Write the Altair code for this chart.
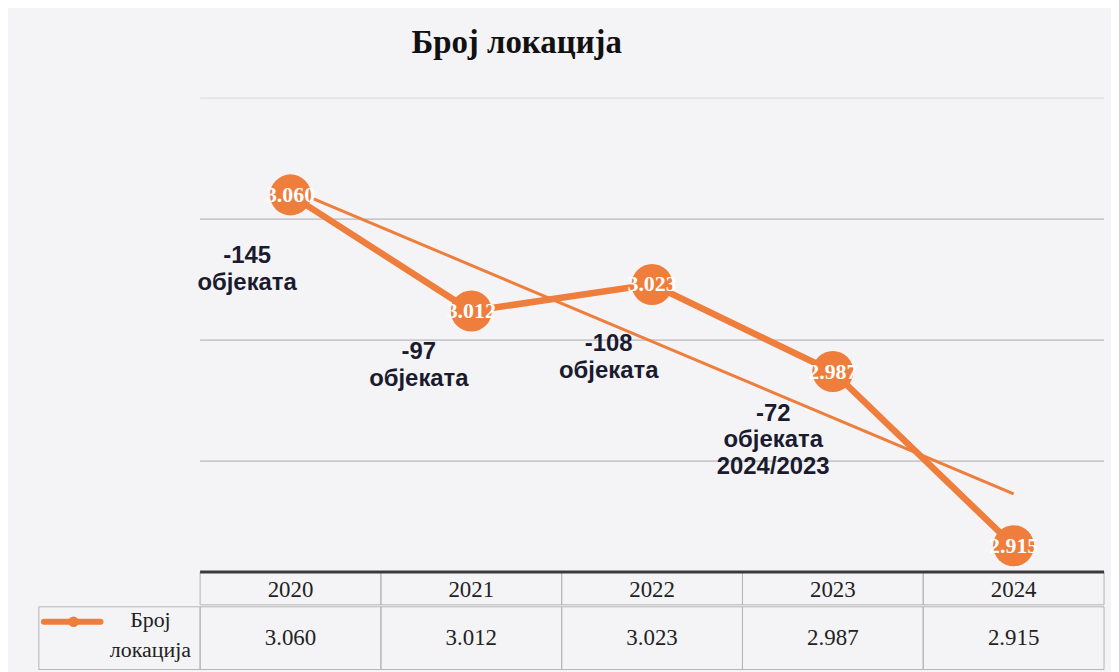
import altair as alt
import pandas as pd

# ---------------- data ----------------
years = [2020, 2021, 2022, 2023, 2024]
counts = [3060, 3012, 3023, 2987, 2915]
count_labels = ["3.060", "3.012", "3.023", "2.987", "2.915"]

ann_texts = ["-145\nобјеката", "-97\nобјеката", "-108\nобјеката", "-72\nобјеката\n2024/2023"]
ann_x = [2019.76, 2020.71, 2021.76, 2022.67]
ann_y = [3034.6, 2995.1, 2998.4, 2969.6]

grid_values = [3100, 3050, 3000, 2950]
grid_opacity = [0.35, 1, 1, 1]
y_domain = [2905, 3100]

chart_title = "Број локација"
series_label = "Број\nлокација"
legend_line_x = [2018.636, 2018.949]
legend_marker_x = [2018.80]
legend_text_x = [2019.225]

# ---------------- style ----------------
ORANGE = "#EF7D3B"
TEXT_DARK = "#1b1b30"
GRID = "#a8a8a8"
CELL = "#b4b4b4"
BG = "#f4f4f6"
SERIF = "Liberation Serif"
SANS = "Liberation Sans"

first_edge = min(years) - 0.5
last_edge = max(years) + 0.5
X_DOMAIN = [2018.608, last_edge]
PW = 1070

xs = alt.Scale(domain=X_DOMAIN, nice=False, zero=False)
ys = alt.Scale(domain=y_domain, nice=False, zero=False)

df = pd.DataFrame({"year": years, "count": counts, "label": count_labels})
ann = pd.DataFrame({"x": ann_x, "y": ann_y, "t": ann_texts})
grid_df = pd.DataFrame({"g": grid_values, "op": grid_opacity,
                        "x0": [first_edge] * len(grid_values),
                        "x1": [last_edge] * len(grid_values)})
span_df = pd.DataFrame({"x0": [first_edge], "x1": [last_edge]})
legend_cell_df = pd.DataFrame({"x0": [X_DOMAIN[0]], "x1": [first_edge]})
legend_line_df = pd.DataFrame({"x0": [legend_line_x[0]], "x1": [legend_line_x[1]]})

X = alt.X("year:Q", scale=xs, axis=None)
Y = alt.Y("count:Q", scale=ys, axis=None)

grid = alt.Chart(grid_df).mark_rule(color=GRID, strokeWidth=1).encode(
    x=alt.X("x0:Q", scale=xs, axis=None), x2="x1:Q",
    y=alt.Y("g:Q", scale=ys, axis=None),
    opacity=alt.Opacity("op:Q", scale=None, legend=None),
)
trend = alt.Chart(df).transform_regression("year", "count").mark_line(
    color=ORANGE, strokeWidth=3
).encode(x=X, y=Y)
line = alt.Chart(df).mark_line(color=ORANGE, strokeWidth=6.5).encode(x=X, y=Y)
dots = alt.Chart(df).mark_circle(size=1700, color=ORANGE, opacity=1).encode(x=X, y=Y)
labels = alt.Chart(df).mark_text(
    color="white", font=SERIF, fontWeight="bold", fontSize=22
).encode(x=X, y=Y, text="label:N")
notes = alt.Chart(ann).mark_text(
    font=SANS, fontWeight="bold", fontSize=24, color=TEXT_DARK,
    lineBreak="\n", lineHeight=27, align="center", baseline="middle",
).encode(
    x=alt.X("x:Q", scale=xs, axis=None),
    y=alt.Y("y:Q", scale=ys, axis=None),
    text="t:N",
)

top = alt.layer(grid, trend, line, dots, labels, notes).properties(
    width=PW, height=474,
    title=alt.TitleParams(
        chart_title, font=SERIF, fontSize=33, fontWeight="bold", color="#111111",
        anchor="middle", dx=-55, offset=38,
    ),
)

# ---------------- table ----------------
tbl = pd.DataFrame({"year": years, "ytxt": [str(v) for v in years], "vtxt": count_labels})

def cells():
    return alt.Chart(tbl).transform_calculate(
        x0="datum.year - 0.5", x1="datum.year + 0.5"
    ).mark_rect(fillOpacity=0, stroke=CELL, strokeWidth=1).encode(
        x=alt.X("x0:Q", scale=xs, axis=None), x2="x1:Q"
    )

top_rule = alt.Chart(span_df).mark_rule(color="#3a3a3a", strokeWidth=3).encode(
    x=alt.X("x0:Q", scale=xs, axis=None), x2="x1:Q", y=alt.value(0)
)
year_text = alt.Chart(tbl).mark_text(font=SERIF, fontSize=23, color="#222222", dy=2).encode(
    x=alt.X("year:Q", scale=xs, axis=None), text="ytxt:N"
)
header = alt.layer(cells(), top_rule, year_text).properties(width=PW, height=33)

legend_cell = alt.Chart(legend_cell_df).mark_rect(fillOpacity=0, stroke=CELL, strokeWidth=1).encode(
    x=alt.X("x0:Q", scale=xs, axis=None), x2="x1:Q"
)
legend_line = alt.Chart(legend_line_df).mark_rule(color=ORANGE, strokeWidth=6, strokeCap="round").encode(
    x=alt.X("x0:Q", scale=xs, axis=None), x2="x1:Q", y=alt.value(15)
)
legend_dot = alt.Chart(pd.DataFrame({"x": legend_marker_x})).mark_circle(
    size=110, color=ORANGE, opacity=1
).encode(x=alt.X("x:Q", scale=xs, axis=None), y=alt.value(15))
legend_txt = alt.Chart(pd.DataFrame({"x": legend_text_x, "t": [series_label]})).mark_text(
    font=SERIF, fontSize=22, color="#222222", lineBreak="\n", lineHeight=30,
    align="center", baseline="middle", dy=-18,
).encode(x=alt.X("x:Q", scale=xs, axis=None), text="t:N")
value_text = alt.Chart(tbl).mark_text(font=SERIF, fontSize=23, color="#222222").encode(
    x=alt.X("year:Q", scale=xs, axis=None), text="vtxt:N"
)
values = alt.layer(cells(), legend_cell, legend_line, legend_dot, legend_txt, value_text).properties(
    width=PW, height=63
)

chart = alt.vconcat(top, header, values, spacing=0).properties(
    background=BG,
    padding={"left": 30, "top": 17, "right": 5, "bottom": 0},
).configure_view(strokeWidth=0)

chart.save("out.html", embed_options={"renderer": "svg", "actions": False})
